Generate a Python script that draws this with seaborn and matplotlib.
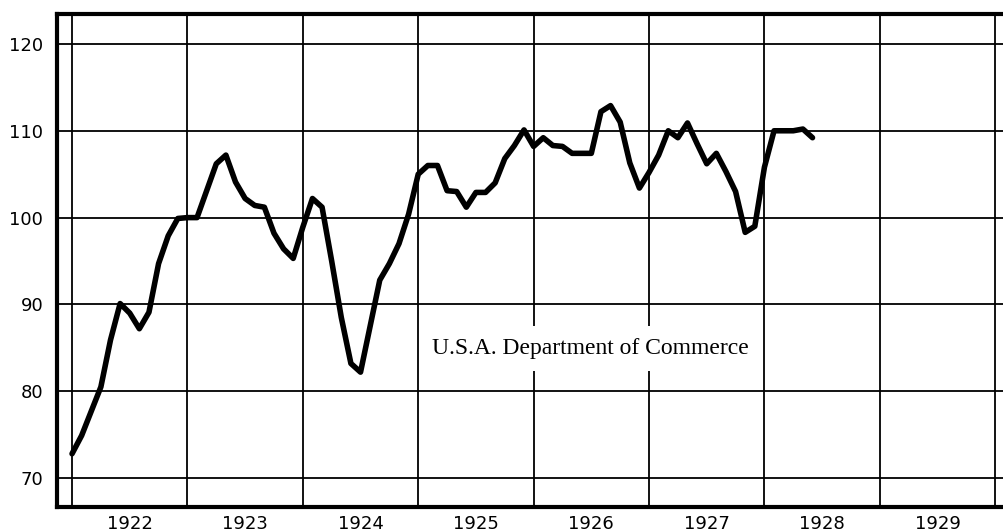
import numpy as np
import pandas as pd
import matplotlib
matplotlib.use('Agg')
import matplotlib.pyplot as plt
import seaborn as sns

# Monthly index values, Jan 1922 - Jun 1928
idx_1922 = [72.8, 74.9, 77.7, 80.5, 85.9, 90.1, 89.0, 87.2, 89.1, 94.7, 97.9, 99.9]
idx_1923 = [100.0, 100.0, 103.1, 106.2, 107.2, 104.1, 102.2, 101.4, 101.2, 98.2, 96.4, 95.3]
idx_1924 = [98.9, 102.2, 101.2, 95.0, 88.5, 83.2, 82.2, 87.5, 92.8, 94.7, 97.0, 100.4]
idx_1925 = [105.0, 106.0, 106.0, 103.1, 103.0, 101.2, 102.9, 102.9, 104.0, 106.8, 108.3, 110.1]
idx_1926 = [108.2, 109.2, 108.3, 108.2, 107.4, 107.4, 107.4, 112.2, 112.9, 111.0, 106.3, 103.4]
idx_1927 = [105.2, 107.2, 110.0, 109.2, 110.9, 108.5, 106.2, 107.4, 105.3, 103.0, 98.3, 99.0]
idx_1928 = [105.8, 110.0, 110.0, 110.0, 110.2, 109.2]

start_year = 1922
year_labels = [1922, 1923, 1924, 1925, 1926, 1927, 1928, 1929]
yticks = [70, 80, 90, 100, 110, 120]
note = "U.S.A. Department of Commerce"

values = idx_1922 + idx_1923 + idx_1924 + idx_1925 + idx_1926 + idx_1927 + idx_1928
df = pd.DataFrame({
    "time": start_year + np.arange(len(values)) / 12,
    "index": values,
})

sns.set_style("white")
plt.rcParams["font.family"] = ["DejaVu Sans"]
plt.rcParams["text.color"] = "black"
plt.rcParams["xtick.color"] = "black"
plt.rcParams["ytick.color"] = "black"

fig = plt.figure(figsize=(10.04, 5.32), dpi=100)
ax = fig.add_axes([0.0568, 0.047, 0.9432, 0.9267])

# year grid lines and horizontal grid
for yr in range(start_year, year_labels[-1] + 2):
    ax.axvline(yr, color="black", lw=1.3, zorder=1)
for yv in yticks:
    ax.axhline(yv, color="black", lw=1.3, zorder=1)

sns.lineplot(data=df, x="time", y="index", color="black", lw=4, ax=ax, zorder=4)

ax.set_xlim(1921.87, 1930.076)
ax.set_ylim(66.67, 123.45)

# quarter ticks (long) and month ticks (short), pointing in
quarters = start_year + np.arange(0, 8 * 12 + 1, 3) / 12
months = start_year + np.arange(0, 8 * 12 + 1) / 12
ax.set_xticks(quarters)
ax.set_xticks(months, minor=True)
ax.set_xticklabels([])
ax.tick_params(axis="x", which="major", direction="in", length=9, width=1.3, color="black")
ax.tick_params(axis="x", which="minor", direction="in", length=5, width=1.3, color="black")

for yr in year_labels:
    ax.text(yr + 0.5, -0.017, str(yr), transform=ax.get_xaxis_transform(),
            ha="center", va="top", fontsize=13, color="black")

ax.set_yticks(yticks)
ax.set_yticklabels([str(v) for v in yticks], fontsize=13, color="black")
ax.tick_params(axis="y", length=0, pad=10)

ax.set_xlabel("")
ax.set_ylabel("")

for side in ["left", "bottom", "top"]:
    ax.spines[side].set_linewidth(3)
    ax.spines[side].set_color("black")
ax.spines["right"].set_visible(False)

ax.text(1926.49, 84.9, note, fontsize=17, family="Liberation Serif", color="black",
        ha="center", va="center", zorder=3,
        bbox=dict(facecolor="white", edgecolor="none", boxstyle="square,pad=0.5"))

fig.savefig("out.png", dpi=100)
